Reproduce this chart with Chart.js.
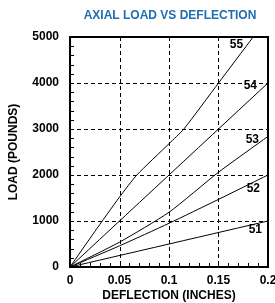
<!DOCTYPE html>
<html>
<head>
<meta charset="utf-8">
<script src="https://cdn.jsdelivr.net/npm/chart.js@4"></script>
<style>
  html, body { margin: 0; padding: 0; background: #fff; }
  #wrap { width: 275px; height: 303px; }
</style>
</head>
<body>
<div id="wrap"><canvas id="myChart" width="275" height="303"></canvas></div>
<script>
// series data (deflection in inches, load in pounds)
const seriesNames = ["51", "52", "53", "54", "55"];
const defl51 = [0, 0.2];
const load51 = [0, 1000];
const defl52 = [0, 0.05, 0.1, 0.15, 0.2];
const load52 = [0, 460, 950, 1470, 2000];
const defl53 = [0, 0.05, 0.1, 0.15, 0.2];
const load53 = [0, 540, 1190, 2060, 2840];
const defl54 = [0, 0.2];
const load54 = [0, 4000];
const defl55 = [0, 0.025, 0.05, 0.0675, 0.1, 0.115, 0.15, 0.185];
const load55 = [0, 770, 1520, 2000, 2680, 3000, 4000, 5000];
const xTicks = [0, 0.05, 0.1, 0.15, 0.2];
const yTicks = [0, 1000, 2000, 3000, 4000, 5000];

const FONT = "'Liberation Sans', Arial, sans-serif";

const pts = (xs, ys) => xs.map((x, i) => ({ x: x, y: ys[i] }));
const allDefl = [defl51, defl52, defl53, defl54, defl55];
const allLoad = [load51, load52, load53, load54, load55];

const data = {
    datasets: seriesNames.map((name, i) => ({
        label: name,
        data: pts(allDefl[i], allLoad[i]),
        borderColor: "#000",
        borderWidth: 1,
        pointRadius: 0,
        tension: 0.2,
        fill: false,
    })),
};

// label offsets from the end of each curve (px)
const labelDx = [-6, -8, -9, -11, -10];
const labelDy = [9, 14, 3, 3, 8];

const extras = {
    id: "extras",
    beforeDatasetsDraw(chart) {
        // dashed grid at the major ticks
        const c = chart.ctx;
        const a = chart.chartArea;
        const xs = chart.scales.x;
        const ys = chart.scales.y;
        c.save();
        c.strokeStyle = "#000";
        c.lineWidth = 1;
        c.setLineDash([4, 3]);
        c.beginPath();
        xTicks.forEach((v) => {
            const px = Math.round(xs.getPixelForValue(v)) + 0.5;
            c.moveTo(px, a.top);
            c.lineTo(px, a.bottom);
        });
        yTicks.forEach((v) => {
            const py = Math.round(ys.getPixelForValue(v)) + 0.5;
            c.moveTo(a.left, py);
            c.lineTo(a.right, py);
        });
        c.stroke();
        c.restore();
    },
    afterDraw(chart) {
        const c = chart.ctx;
        const a = chart.chartArea;
        const xs = chart.scales.x;
        const ys = chart.scales.y;
        c.save();
        // minor ticks pointing inward
        c.strokeStyle = "#000";
        c.lineWidth = 1;
        c.beginPath();
        for (let v = 0; v <= 5000; v += 200) {
            const py = Math.round(ys.getPixelForValue(v)) + 0.5;
            c.moveTo(a.left, py);
            c.lineTo(a.left + 4, py);
        }
        for (let k = 0; k <= 20; k++) {
            const px = Math.round(xs.getPixelForValue(k * 0.01)) + 0.5;
            c.moveTo(px, a.bottom);
            c.lineTo(px, a.bottom - 4);
        }
        c.stroke();
        // border
        c.lineWidth = 2;
        c.strokeRect(a.left, a.top, a.right - a.left, a.bottom - a.top);
        // curve labels
        c.fillStyle = "#000";
        c.font = "bold 12px " + FONT;
        c.textAlign = "right";
        c.textBaseline = "middle";
        chart.data.datasets.forEach((ds, i) => {
            const last = ds.data[ds.data.length - 1];
            const px = xs.getPixelForValue(last.x);
            const py = ys.getPixelForValue(last.y);
            c.fillText(ds.label, px + labelDx[i], py + labelDy[i]);
        });
        // title centred over the plot
        c.fillStyle = "#1f6db3";
        c.font = "bold 12px " + FONT;
        c.textAlign = "center";
        c.fillText("AXIAL LOAD VS DEFLECTION", (a.left + a.right) / 2 + 1, 16);
        c.restore();
    },
};

const config = {
    type: "line",
    data,
    options: {
        responsive: false,
        animation: false,
        layout: { padding: { top: 37, right: 0, left: 0, bottom: 0 } },
        plugins: {
            legend: { display: false },
            title: { display: false },
            tooltip: { enabled: false },
        },
        scales: {
            x: {
                type: "linear",
                min: 0,
                max: 0.2,
                afterFit: (s) => { s.height = 36; s.paddingRight = 7; s.paddingLeft = 0; },
                afterBuildTicks: (s) => { s.ticks = xTicks.map((v) => ({ value: v })); },
                ticks: {
                    color: "#000",
                    padding: 6,
                    maxRotation: 0,
                    font: { family: FONT, size: 12, weight: "bold" },
                    callback: (v) => String(v),
                },
                grid: { display: false, drawTicks: false },
                border: { display: false },
                title: {
                    display: true,
                    text: "DEFLECTION (INCHES)",
                    color: "#000",
                    padding: { top: 0, bottom: 0 },
                    font: { family: FONT, size: 12, weight: "bold" },
                },
            },
            y: {
                type: "linear",
                min: 0,
                max: 5000,
                afterFit: (s) => { s.width = 70; },
                afterBuildTicks: (s) => { s.ticks = yTicks.map((v) => ({ value: v })); },
                ticks: {
                    color: "#000",
                    padding: 11,
                    font: { family: FONT, size: 12, weight: "bold" },
                    callback: (v) => String(v),
                },
                grid: { display: false, drawTicks: false },
                border: { display: false },
                title: {
                    display: true,
                    text: "LOAD (POUNDS)",
                    color: "#000",
                    padding: { top: 6, bottom: 4 },
                    font: { family: FONT, size: 12, weight: "bold" },
                },
            },
        },
    },
    plugins: [extras],
};

const ctx = document.getElementById("myChart").getContext("2d");
const chart = new Chart(ctx, config);
</script>
</body>
</html>
